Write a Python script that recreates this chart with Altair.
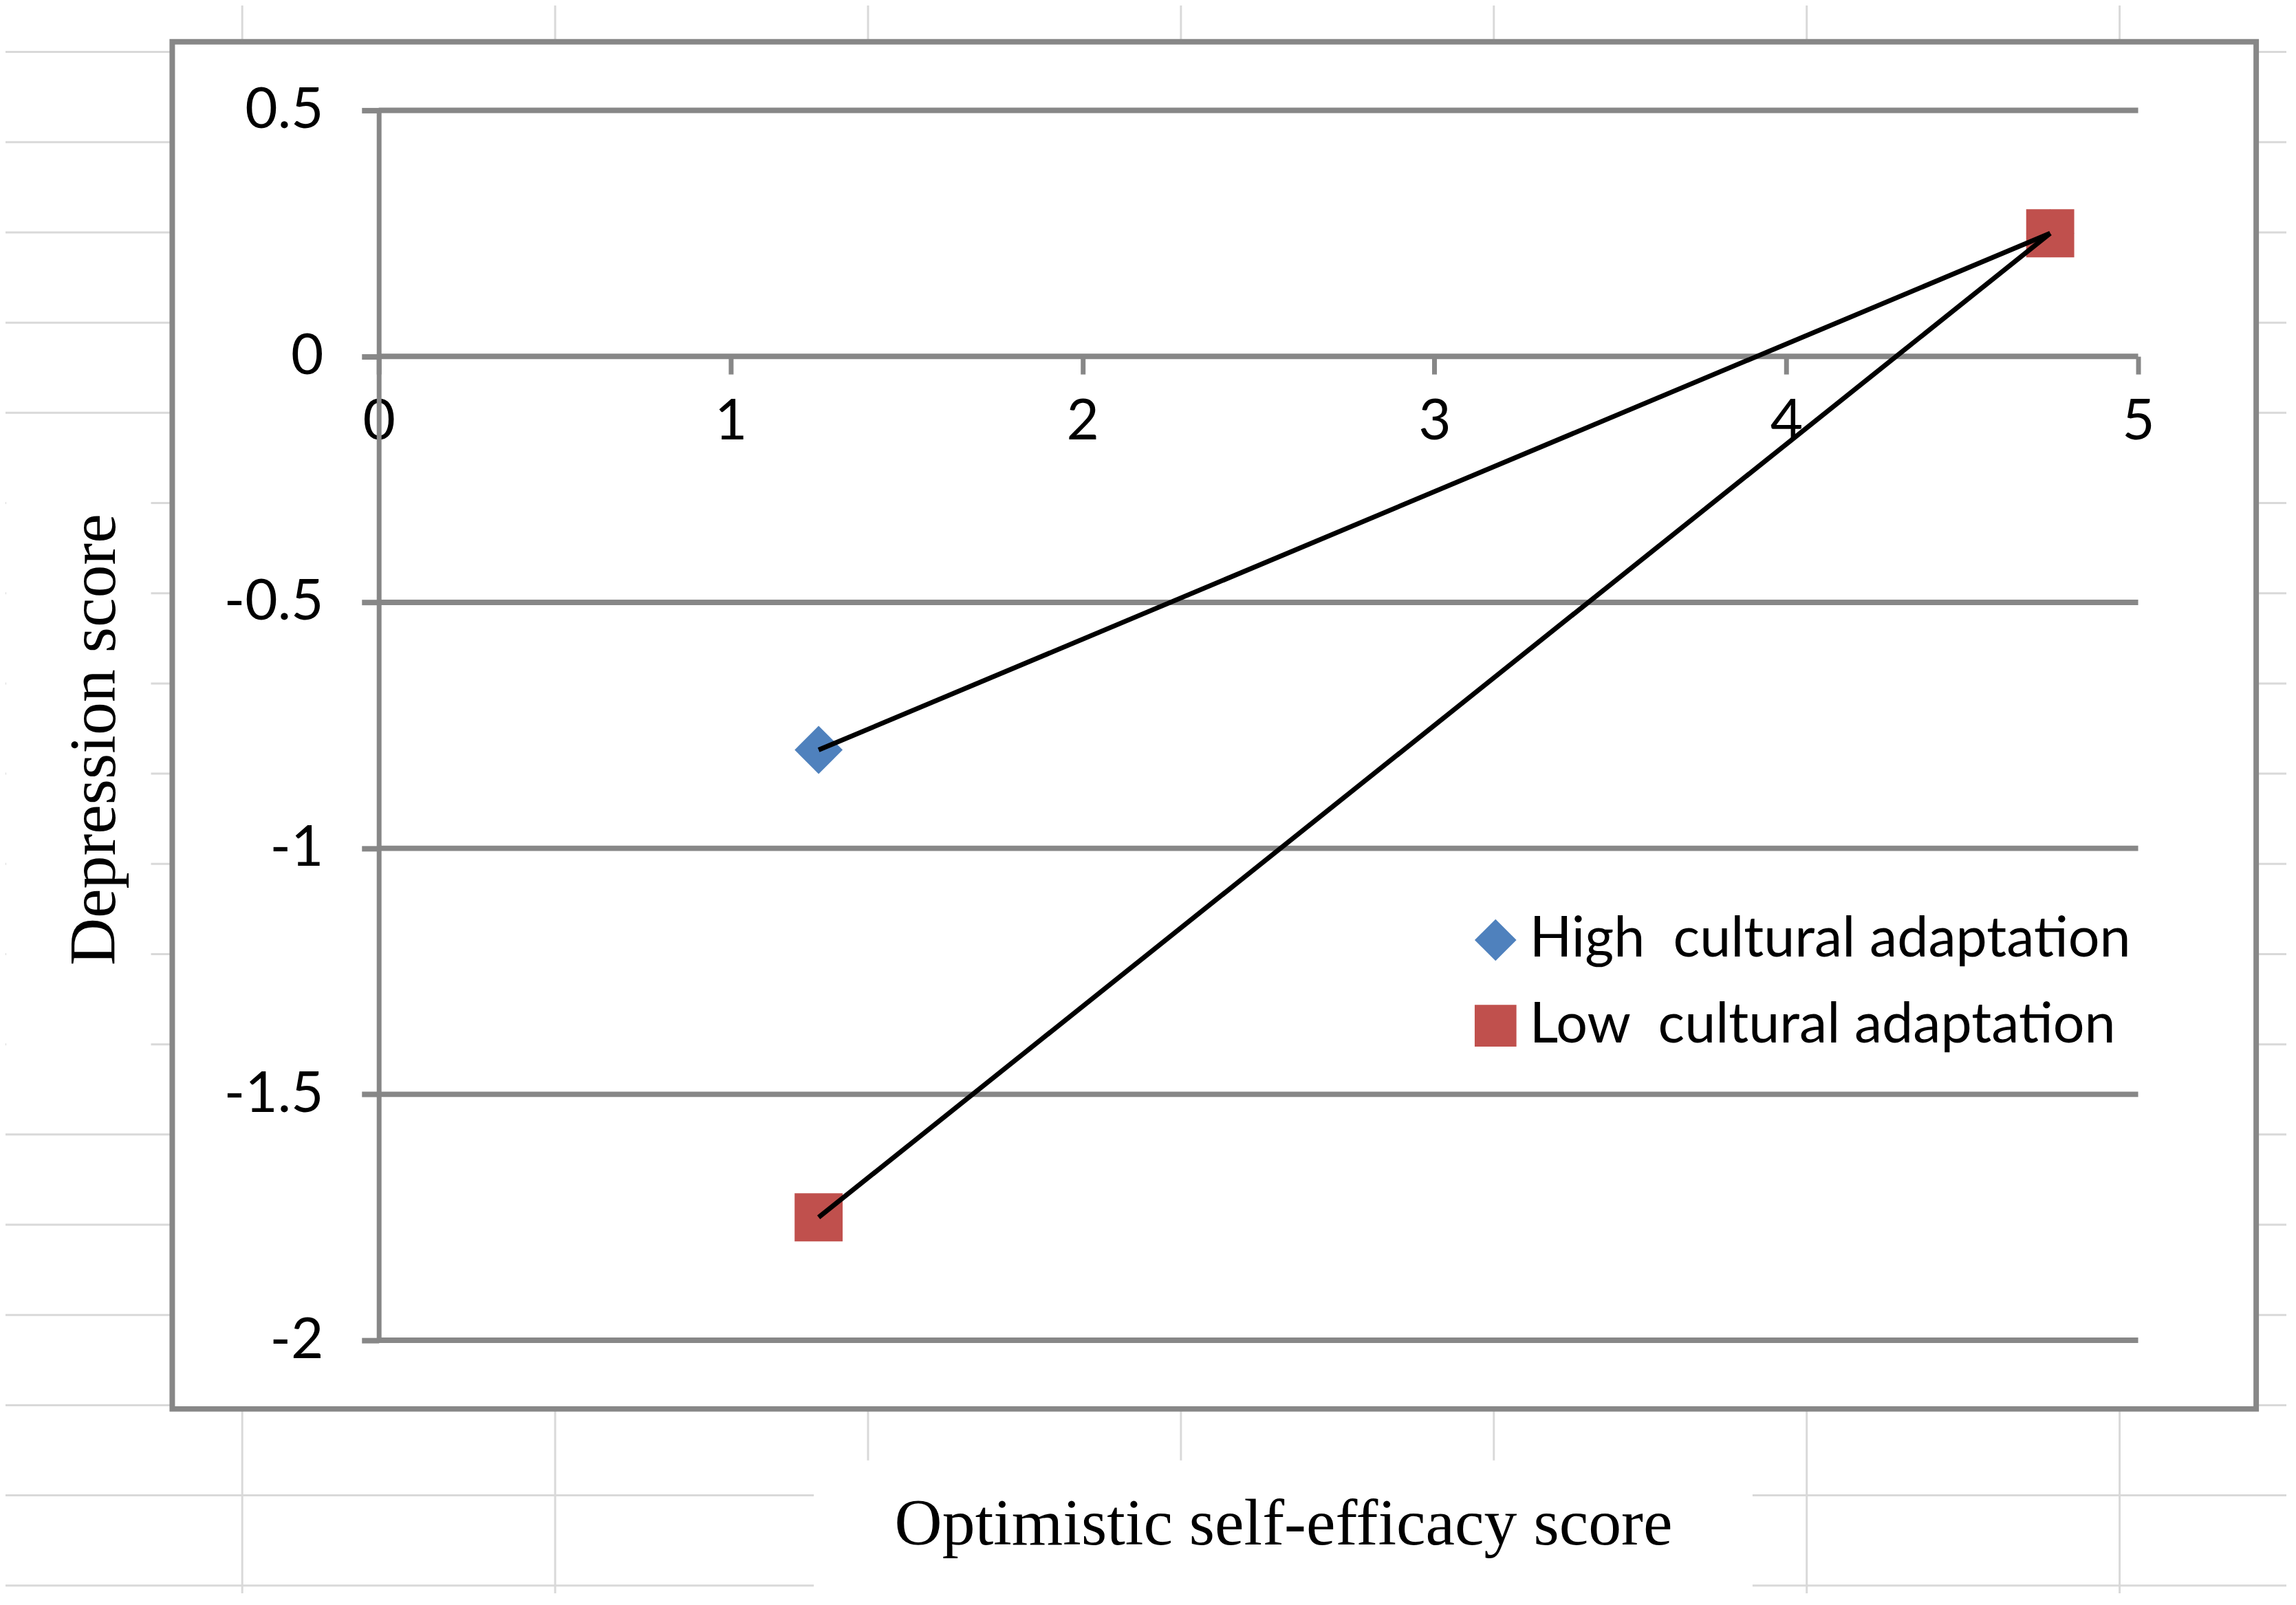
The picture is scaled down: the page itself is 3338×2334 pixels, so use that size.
import altair as alt
import pandas as pd

# ---------------- data ----------------
groups = ["High \u00a0cultural adaptation", "Low \u00a0cultural adaptation"]
x_points = [1.25, 4.75]
high_y = [-0.8, 0.25]
low_y = [-1.75, 0.25]
x_ticks = [0, 1, 2, 3, 4, 5]
y_ticks = [-2, -1.5, -1, -0.5, 0, 0.5]
colors = ["#4F81BD", "#C0504D"]
shapes = ["diamond", "square"]

x_title = "Optimistic self-efficacy score"
y_title = "Depression score"

# ---------------- layout constants (pixels) ----------------
W, H = 2564, 1793
PAD = {"left": 544, "top": 150, "right": 222, "bottom": 366}
OX, OY = 552, 158          # page position of the plot origin
GRAY = "#878787"
SHEET = "#d9d9d9"

df = pd.DataFrame({
    "group": [groups[0]] * 2 + [groups[1]] * 2,
    "x": x_points + x_points,
    "y": high_y + low_y,
})
grid_df = pd.DataFrame({"y": y_ticks, "x0": [x_ticks[0]] * len(y_ticks),
                        "x1": [x_ticks[-1]] * len(y_ticks)})

# spreadsheet background (decorative cell grid of the screenshot)
sheet_rows = []
for k in range(18):
    yy = 73 + 131.5 * k - OY
    sheet_rows.append({"a": 5 - OX, "b": 3332 - OX, "c": yy, "d": yy})
for k in range(7):
    xx = 353 + 456 * k - OX
    sheet_rows.append({"a": xx, "b": xx, "c": 5 - OY, "d": 2334 - OY})
sheet_df = pd.DataFrame(sheet_rows)

boxes_df = pd.DataFrame([
    {"a": 1186 - OX, "b": 2554 - OX, "c": 2126 - OY, "d": 2340 - OY},  # x-title box
    {"a": 9 - OX, "b": 220 - OX, "c": 665 - OY, "d": 1585 - OY},       # y-title box
])
frame_df = pd.DataFrame([{"a": 251 - OX, "b": 3288 - OX, "c": 58 - OY, "d": 2051 - OY}])

xscale = alt.Scale(domain=[x_ticks[0], x_ticks[-1]], nice=False, zero=False)
yscale = alt.Scale(domain=[y_ticks[0], y_ticks[-1]], nice=False, zero=False)

y0_px = H * (y_ticks[-1] - 0) / (y_ticks[-1] - y_ticks[0])

xaxis = alt.Axis(
    orient="bottom", offset=-(H - y0_px), values=x_ticks, domain=False, grid=False,
    ticks=True, tickSize=26, tickWidth=7, tickColor=GRAY,
    labelFont="Lato", labelFontSize=82, labelColor="black", labelPadding=30,
    labelAngle=0, labelFlush=False, labelOverlap=False, format="~g",
    zindex=1,
    title=x_title, titleFont="Liberation Serif", titleFontSize=96,
    titleFontWeight="normal", titleColor="black",
    titleX=1870 - OX, titleY=2248 - OY - y0_px,
    titleBaseline="alphabetic", titleAlign="center", titleAngle=0,
)
yaxis = alt.Axis(
    orient="left", values=y_ticks, domain=True, domainColor=GRAY, domainWidth=7,
    grid=False, ticks=True, tickSize=25, tickWidth=8, tickColor=GRAY,
    labelFont="Lato", labelFontSize=82, labelColor="black", labelPadding=56,
    labelOverlap=False, labelFlush=False,
    labelExpr="replace(format(datum.value, '~g'), '\u2212', '-')",
    zindex=1,
    title=y_title, titleFont="Liberation Serif", titleFontSize=96,
    titleFontWeight="normal", titleColor="black",
    titleX=167 - OX, titleY=1075 - OY, titleAngle=270,
    titleBaseline="alphabetic", titleAlign="center",
)

sheet = alt.Chart(sheet_df).mark_rule(color=SHEET, strokeWidth=3).encode(
    x=alt.X("a:Q", scale=None), x2="b:Q",
    y=alt.Y("c:Q", scale=None), y2="d:Q",
)
boxes = alt.Chart(boxes_df).mark_rect(color="white").encode(
    x=alt.X("a:Q", scale=None), x2="b:Q",
    y=alt.Y("c:Q", scale=None), y2="d:Q",
)
frame = alt.Chart(frame_df).mark_rect(fill="white", stroke=GRAY, strokeWidth=8).encode(
    x=alt.X("a:Q", scale=None), x2="b:Q",
    y=alt.Y("c:Q", scale=None), y2="d:Q",
)
grid = alt.Chart(grid_df).mark_rule(color=GRAY, strokeWidth=8).encode(
    x=alt.X("x0:Q", scale=xscale, axis=xaxis), x2="x1:Q",
    y=alt.Y("y:Q", scale=yscale, axis=yaxis),
)

legend = alt.Legend(
    orient="none", legendX=1587, legendY=1169, title=None,
    labelFont="Lato", labelFontSize=81, labelColor="black", labelLimit=2000,
    symbolSize=3700, symbolStrokeWidth=0, rowPadding=43, labelOffset=9, padding=0,
)
points = alt.Chart(df).mark_point(filled=True, size=4900, opacity=1, strokeWidth=0).encode(
    x=alt.X("x:Q", scale=xscale, axis=xaxis),
    y=alt.Y("y:Q", scale=yscale, axis=yaxis),
    color=alt.Color("group:N", scale=alt.Scale(domain=groups, range=colors), legend=legend),
    shape=alt.Shape("group:N", scale=alt.Scale(domain=groups, range=shapes), legend=legend),
)
lines = alt.Chart(df).mark_line(color="black", strokeWidth=7).encode(
    x=alt.X("x:Q", scale=xscale, axis=xaxis),
    y=alt.Y("y:Q", scale=yscale, axis=yaxis),
    detail="group:N",
    order="x:Q",
)

chart = alt.layer(sheet, boxes, frame, grid, points, lines).properties(
    width=W, height=H,
    autosize=alt.AutoSizeParams(type="none"),
    padding=PAD,
    background="white",
).configure_view(stroke=None)

chart.save("out.html", embed_options={"renderer": "svg", "actions": False})
